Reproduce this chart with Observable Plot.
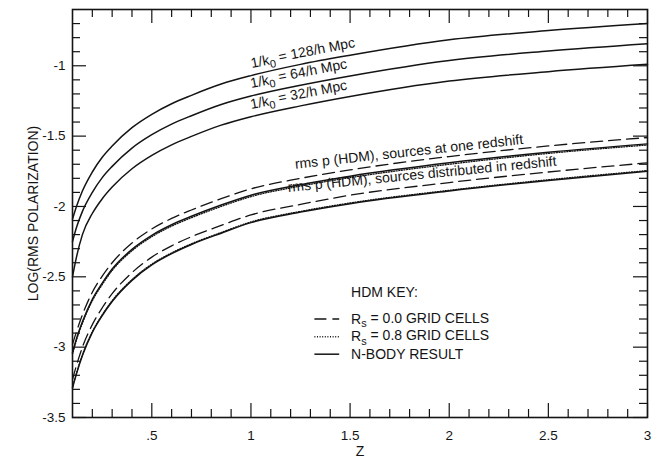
<!DOCTYPE html>
<html>
<head>
<meta charset="utf-8">
<script src="https://cdn.jsdelivr.net/npm/d3@7"></script>
<script src="https://cdn.jsdelivr.net/npm/@observablehq/plot@0.6"></script>
<style>
  html, body { margin: 0; padding: 0; background: #fff; }
  #chart { width: 664px; height: 459px; }
  #chart svg { display: block; }
</style>
</head>
<body>
<div id="chart"></div>
<script>
// Redshift sample points shared by every curve
const redshift = [0.1, 0.12, 0.15, 0.2, 0.25, 0.3, 0.4, 0.5, 0.6, 0.7, 0.85, 1.0, 1.25, 1.5, 2.0, 2.5, 3.0];

// Power-law spectra cut off at 1/k0
const k0_128 = [-2.09, -2.00, -1.89, -1.755, -1.65, -1.57, -1.44, -1.345, -1.27, -1.21, -1.13, -1.07, -0.99, -0.925, -0.815, -0.75, -0.70];
const k0_64  = [-2.25, -2.15, -2.035, -1.90, -1.795, -1.715, -1.585, -1.49, -1.415, -1.355, -1.275, -1.215, -1.138, -1.072, -0.962, -0.895, -0.843];
const k0_32  = [-2.50, -2.36, -2.20, -2.05, -1.945, -1.862, -1.732, -1.637, -1.562, -1.502, -1.422, -1.362, -1.285, -1.218, -1.108, -1.042, -0.99];

// HDM, sources at one redshift
const oneZ_rs00  = [-2.98, -2.89, -2.77, -2.61, -2.495, -2.40, -2.26, -2.16, -2.085, -2.025, -1.945, -1.875, -1.80, -1.74, -1.645, -1.57, -1.51];
const oneZ_rs08  = [-3.05, -2.95, -2.83, -2.67, -2.555, -2.455, -2.315, -2.215, -2.14, -2.08, -2.0, -1.93, -1.855, -1.795, -1.70, -1.623, -1.563];
const oneZ_nbody = [-3.04, -2.94, -2.82, -2.66, -2.545, -2.445, -2.305, -2.205, -2.13, -2.07, -1.99, -1.92, -1.845, -1.785, -1.69, -1.615, -1.555];

// HDM, sources distributed in redshift
const distZ_rs00  = [-3.23, -3.13, -3.00, -2.84, -2.72, -2.62, -2.47, -2.36, -2.28, -2.215, -2.135, -2.06, -1.985, -1.92, -1.83, -1.755, -1.69];
const distZ_rs08  = [-3.285, -3.185, -3.055, -2.89, -2.77, -2.67, -2.52, -2.41, -2.33, -2.265, -2.185, -2.11, -2.035, -1.975, -1.885, -1.81, -1.745];
const distZ_nbody = [-3.29, -3.19, -3.06, -2.895, -2.775, -2.675, -2.525, -2.415, -2.335, -2.27, -2.19, -2.115, -2.04, -1.98, -1.89, -1.815, -1.75];

// Axis ticks and their printed labels
const xMajor = [0.5, 1, 1.5, 2, 2.5, 3];
const xTickLabels = [".5", "1", "1.5", "2", "2.5", "3"];
const yMajor = [-3.5, -3, -2.5, -2, -1.5, -1];
const yTickLabels = ["-3.5", "-3", "-2.5", "-2", "-1.5", "-1"];

// Curve annotations and legend entries
const curveLabels = ["1/k_0 = 128/h Mpc", "1/k_0 = 64/h Mpc", "1/k_0 = 32/h Mpc",
  "rms p (HDM), sources at one redshift", "rms p (HDM), sources distributed in redshift"];
const keyTitle = "HDM KEY:";
const keyLabels = ["R_s = 0.0 GRID CELLS", "R_s = 0.8 GRID CELLS", "N-BODY RESULT"];

// ---- tables built from the arrays above ----
const series = [
  {name: "k128", style: "solid", values: k0_128},
  {name: "k64", style: "solid", values: k0_64},
  {name: "k32", style: "solid", values: k0_32},
  {name: "one-rs00", style: "dashed", values: oneZ_rs00},
  {name: "one-rs08", style: "dotted", values: oneZ_rs08},
  {name: "one-nbody", style: "solid", values: oneZ_nbody},
  {name: "dist-rs00", style: "dashed", values: distZ_rs00},
  {name: "dist-rs08", style: "dotted", values: distZ_rs08},
  {name: "dist-nbody", style: "solid", values: distZ_nbody}
];
const rows = series.flatMap(s => s.values.map((v, i) => ({name: s.name, style: s.style, z: redshift[i], v})));
const byStyle = st => rows.filter(r => r.style === st);

const xMinor = d3.range(2, 30).map(i => i / 10).filter(d => !xMajor.some(m => Math.abs(m - d) < 1e-9));
const yMinor = d3.range(-34, -6).map(i => i / 10).filter(d => !yMajor.some(m => Math.abs(m - d) < 1e-9));
const xFmt = new Map(xMajor.map((d, i) => [d, xTickLabels[i]]));
const yFmt = new Map(yMajor.map((d, i) => [d, yTickLabels[i]]));

const ink = "#141414";
const W = 664, H = 459, mL = 72, mR = 17, mT = 9, mB = 42;
const fw = W - mL - mR, fh = H - mT - mB;
const majorLen = 14, minorLen = 8;

const DASH = "12,6", DOT = "1,1.6";

// legend rows: sample line and text placed in data units
const keyX1 = 1.32, keyX2 = 1.445, keyTextX = 1.505;
const keyYs = [-2.80, -2.926, -3.05];
const keyRows = keyLabels.map((label, i) => ({label, y: keyYs[i], dash: [DASH, DOT, null][i]}));

const tickRule = (mk, data, opts) => mk(data, {stroke: ink, strokeWidth: 1.2, ...opts});

const chart = Plot.plot({
  width: W, height: H,
  marginLeft: mL, marginRight: mR, marginTop: mT, marginBottom: mB,
  x: {domain: [0.1, 3]},
  y: {domain: [-3.5, -0.6]},
  style: {fontFamily: "'Liberation Sans', Arial, Helvetica, sans-serif", fontSize: "13.5px", color: ink, background: "#fff"},
  marks: [
    // inward ticks on all four sides
    tickRule(Plot.ruleX, xMajor, {insetTop: fh - majorLen}),
    tickRule(Plot.ruleX, xMinor, {insetTop: fh - minorLen}),
    tickRule(Plot.ruleX, xMajor, {insetBottom: fh - majorLen}),
    tickRule(Plot.ruleX, xMinor, {insetBottom: fh - minorLen}),
    tickRule(Plot.ruleY, yMajor, {insetRight: fw - majorLen}),
    tickRule(Plot.ruleY, yMinor, {insetRight: fw - minorLen}),
    tickRule(Plot.ruleY, yMajor, {insetLeft: fw - majorLen}),
    tickRule(Plot.ruleY, yMinor, {insetLeft: fw - minorLen}),
    Plot.axisX(xMajor, {tickSize: 0, tickPadding: 13, tickFormat: d => xFmt.get(d), label: null, fontSize: 13.5}),
    Plot.axisY(yMajor, {tickSize: 0, tickPadding: 7, tickFormat: d => yFmt.get(d), label: null, fontSize: 13.5}),
    Plot.frame({stroke: ink, strokeWidth: 1.6}),
    // curves
    Plot.line(byStyle("solid"), {x: "z", y: "v", z: "name", stroke: ink, strokeWidth: 1.5, curve: "monotone-x"}),
    Plot.line(byStyle("dashed"), {x: "z", y: "v", z: "name", stroke: ink, strokeWidth: 1.3, strokeDasharray: DASH, curve: "monotone-x"}),
    Plot.line(byStyle("dotted"), {x: "z", y: "v", z: "name", stroke: ink, strokeWidth: 1.3, strokeDasharray: DOT, curve: "monotone-x"}),
    // curve annotations
    Plot.text([curveLabels[0]], {x: 1.262, y: -0.913, rotate: -11, fill: ink, fontSize: 14}),
    Plot.text([curveLabels[1]], {x: 1.241, y: -1.06, rotate: -11, fill: ink, fontSize: 14}),
    Plot.text([curveLabels[2]], {x: 1.241, y: -1.21, rotate: -11, fill: ink, fontSize: 14}),
    Plot.text([curveLabels[3]], {x: 1.797, y: -1.612, rotate: -6.2, fill: ink, fontSize: 14}),
    Plot.text([curveLabels[4]], {x: 1.863, y: -1.772, rotate: -5.6, fill: ink, fontSize: 14}),
    // key
    Plot.text([keyTitle], {x: keyTextX, y: -2.611, textAnchor: "start", fill: ink, fontSize: 14}),
    Plot.link(keyRows.filter(r => r.dash === DASH), {x1: keyX1, x2: keyX2, y1: "y", y2: "y", stroke: ink, strokeWidth: 1.3, strokeDasharray: DASH}),
    Plot.link(keyRows.filter(r => r.dash === DOT), {x1: keyX1, x2: keyX2, y1: "y", y2: "y", stroke: ink, strokeWidth: 1.3, strokeDasharray: DOT}),
    Plot.link(keyRows.filter(r => r.dash === null), {x1: keyX1, x2: keyX2, y1: "y", y2: "y", stroke: ink, strokeWidth: 1.5}),
    Plot.text(keyRows, {x: keyTextX, y: "y", text: "label", textAnchor: "start", fill: ink, fontSize: 14}),
    // axis titles
    Plot.text(["Z"], {frameAnchor: "bottom", dy: 34, lineAnchor: "middle", textAnchor: "middle", fill: ink, fontSize: 14}),
    Plot.text(["LOG(RMS POLARIZATION)"], {frameAnchor: "left", dx: -39, rotate: -90, lineAnchor: "middle", textAnchor: "middle", fill: ink, fontSize: 14})
  ]
});

// turn "a_b..." into a with subscript b
d3.select(chart).selectAll("text").each(function() {
  const t = this.textContent;
  const i = t.indexOf("_");
  if (i < 0 || this.querySelector("tspan")) return;
  const el = d3.select(this);
  el.text(null);
  el.append("tspan").text(t.slice(0, i));
  el.append("tspan").attr("dy", "0.32em").attr("font-size", "0.78em").text(t[i + 1]);
  el.append("tspan").attr("dy", "-0.32em").text(t.slice(i + 2));
});

document.getElementById("chart").append(chart);
</script>
</body>
</html>
